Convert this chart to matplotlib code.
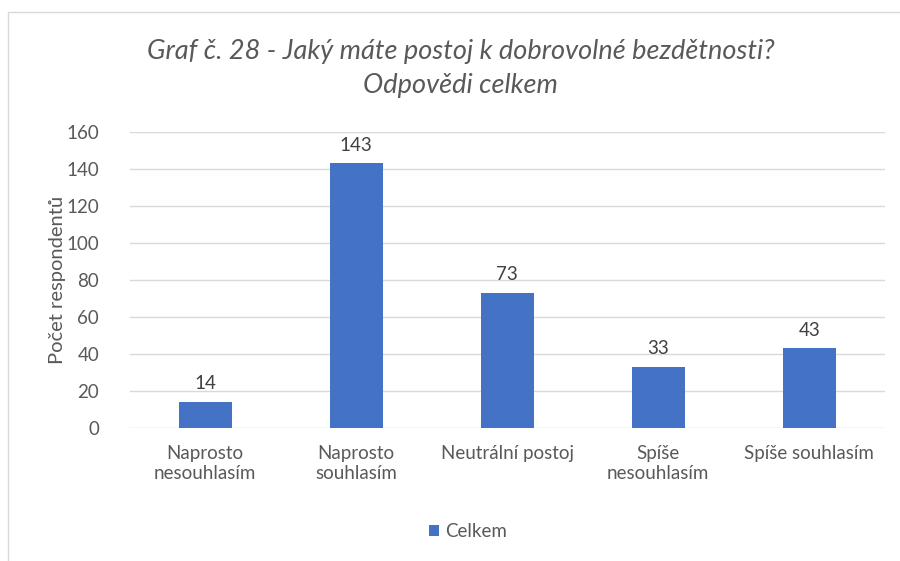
import matplotlib.pyplot as plt
from matplotlib.patches import Rectangle

plt.rcParams["font.family"] = ["Lato", "DejaVu Sans"]

categories = ["Naprosto\nnesouhlasím", "Naprosto\nsouhlasím", "Neutrální postoj",
              "Spíše\nnesouhlasím", "Spíše souhlasím"]
values = [14, 143, 73, 33, 43]
yticks = [0, 20, 40, 60, 80, 100, 120, 140, 160]

bar_color = "#4472C4"
text_color = "#595959"
grid_color = "#d9d9d9"

fig = plt.figure(figsize=(9, 5.61), dpi=100)
ax = fig.add_axes([0.144, 0.237, 0.839, 0.528])

x = list(range(len(categories)))
bars = ax.bar(x, values, width=0.35, color=bar_color, label="Celkem", zorder=3)

for b, v in zip(bars, values):
    ax.annotate(str(v), (b.get_x() + b.get_width() / 2, v),
                xytext=(0, 7), textcoords="offset points",
                ha="center", va="bottom", fontsize=13.5, color="#404040")

ax.set_xlim(-0.5, len(categories) - 0.5)
ax.set_ylim(0, 160)
ax.set_yticks(yticks)
ax.set_xticks(x)
ax.set_xticklabels(categories)
ax.tick_params(axis="both", length=0, labelsize=13.5, colors=text_color)
ax.tick_params(axis="x", pad=12)
ax.tick_params(axis="y", pad=22)
ax.yaxis.grid(True, color=grid_color, linewidth=1, zorder=0)
for s in ax.spines.values():
    s.set_visible(False)

ax.set_ylabel("Počet respondentů", fontsize=14.5, color=text_color, labelpad=0)

fig.text(0.512, 0.908, "Graf č. 28 - Jaký máte postoj k dobrovolné bezdětnosti?",
         ha="center", va="center", fontsize=19.5, style="italic", color=text_color)
fig.text(0.512, 0.848, "Odpovědi celkem",
         ha="center", va="center", fontsize=19.5, style="italic", color=text_color)

fig.legend(handles=[bars], labels=["Celkem"], loc="center", bbox_to_anchor=(0.52, 0.052),
           frameon=False, fontsize=13.5, labelcolor=text_color, handlelength=0.55,
           handleheight=0.55, handletextpad=0.35)

# chart area border
fig.add_artist(Rectangle((0.009, -0.1), 1.1, 1.1 - 12 / 561, transform=fig.transFigure,
                         fill=False, edgecolor=grid_color, linewidth=1))

fig.savefig("out.png", dpi=100, facecolor="white")
